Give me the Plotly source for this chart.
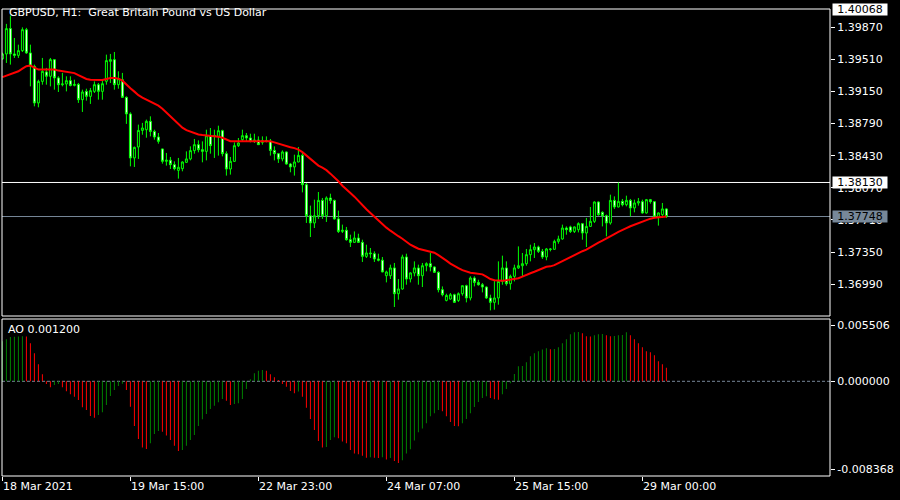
import plotly.graph_objects as go

# ---------------- data ----------------
time_tick_idx = [0, 32, 64, 96, 128, 160]
time_tick_labels = ["18 Mar 2021", "19 Mar 15:00", "22 Mar 23:00", "24 Mar 07:00", "25 Mar 15:00", "29 Mar 00:00"]

price_ticks = [1.39870, 1.39510, 1.39150, 1.38790, 1.38430, 1.38070, 1.37710, 1.37350, 1.36990]

ohlc = [
    (1.39516, 1.39586, 1.39508, 1.39572), (1.39572, 1.39909, 1.39471, 1.39856), (1.39856, 1.40002, 1.39452, 1.39572),
    (1.39572, 1.39751, 1.39527, 1.39556), (1.39556, 1.39676, 1.39527, 1.39609), (1.39609, 1.39870, 1.39594, 1.39844),
    (1.39844, 1.39864, 1.39572, 1.39583), (1.39583, 1.39676, 1.39208, 1.39433), (1.39433, 1.39452, 1.38984, 1.39022),
    (1.39022, 1.39283, 1.38973, 1.39264), (1.39264, 1.39527, 1.39227, 1.39377), (1.39370, 1.39415, 1.39227, 1.39321),
    (1.39321, 1.39527, 1.39208, 1.39508), (1.39508, 1.39510, 1.39171, 1.39303), (1.39303, 1.39321, 1.39145, 1.39227),
    (1.39227, 1.39359, 1.39208, 1.39235), (1.39235, 1.39321, 1.39152, 1.39272), (1.39272, 1.39321, 1.39208, 1.39219),
    (1.39219, 1.39283, 1.39208, 1.39230), (1.39230, 1.39246, 1.39022, 1.39059), (1.39059, 1.39171, 1.38921, 1.39145),
    (1.39152, 1.39182, 1.39048, 1.39096), (1.39096, 1.39190, 1.39011, 1.39160), (1.39152, 1.39264, 1.39134, 1.39227),
    (1.39227, 1.39246, 1.39059, 1.39152), (1.39152, 1.39283, 1.39059, 1.39238), (1.39265, 1.39564, 1.39227, 1.39497),
    (1.39489, 1.39572, 1.39246, 1.39508), (1.39508, 1.39594, 1.39171, 1.39227), (1.39227, 1.39377, 1.39182, 1.39294),
    (1.39283, 1.39359, 1.39078, 1.39085), (1.39085, 1.39096, 1.38787, 1.38899), (1.38899, 1.38917, 1.38311, 1.38405),
    (1.38405, 1.38532, 1.38304, 1.38524), (1.38528, 1.38779, 1.38394, 1.38714), (1.38714, 1.38798, 1.38666, 1.38741),
    (1.38722, 1.38835, 1.38632, 1.38816), (1.38816, 1.38872, 1.38647, 1.38703), (1.38703, 1.38722, 1.38610, 1.38640),
    (1.38640, 1.38685, 1.38565, 1.38591), (1.38506, 1.38509, 1.38341, 1.38367), (1.38367, 1.38461, 1.38319, 1.38380),
    (1.38380, 1.38416, 1.38281, 1.38330), (1.38330, 1.38367, 1.38266, 1.38285), (1.38266, 1.38405, 1.38173, 1.38300),
    (1.38285, 1.38367, 1.38255, 1.38360), (1.38356, 1.38479, 1.38349, 1.38394), (1.38394, 1.38535, 1.38378, 1.38487),
    (1.38487, 1.38618, 1.38453, 1.38554), (1.38554, 1.38602, 1.38468, 1.38498), (1.38498, 1.38591, 1.38356, 1.38479),
    (1.38479, 1.38722, 1.38378, 1.38655), (1.38655, 1.38741, 1.38453, 1.38543), (1.38647, 1.38722, 1.38405, 1.38655),
    (1.38647, 1.38767, 1.38431, 1.38711), (1.38711, 1.38722, 1.38423, 1.38453), (1.38453, 1.38479, 1.38207, 1.38281),
    (1.38281, 1.38416, 1.38218, 1.38367), (1.38367, 1.38580, 1.38360, 1.38543), (1.38543, 1.38629, 1.38528, 1.38573),
    (1.38610, 1.38722, 1.38591, 1.38655), (1.38655, 1.38685, 1.38591, 1.38629), (1.38629, 1.38677, 1.38580, 1.38591),
    (1.38591, 1.38677, 1.38573, 1.38606), (1.38606, 1.38647, 1.38550, 1.38554), (1.38580, 1.38647, 1.38554, 1.38599),
    (1.38599, 1.38647, 1.38580, 1.38591), (1.38591, 1.38618, 1.38431, 1.38490), (1.38490, 1.38535, 1.38378, 1.38453),
    (1.38453, 1.38461, 1.38349, 1.38394), (1.38394, 1.38490, 1.38367, 1.38472), (1.38472, 1.38479, 1.38330, 1.38337),
    (1.38337, 1.38349, 1.38244, 1.38304), (1.38304, 1.38442, 1.38207, 1.38360), (1.38360, 1.38528, 1.38356, 1.38434),
    (1.38434, 1.38468, 1.38019, 1.38105), (1.38105, 1.38124, 1.37676, 1.37757), (1.37757, 1.37870, 1.37518, 1.37676),
    (1.37676, 1.37937, 1.37619, 1.37757), (1.37757, 1.38023, 1.37721, 1.37929), (1.37929, 1.37956, 1.37721, 1.37757),
    (1.37757, 1.37974, 1.37687, 1.37956), (1.37956, 1.38004, 1.37892, 1.37929), (1.37929, 1.37937, 1.37713, 1.37721),
    (1.37721, 1.37814, 1.37563, 1.37581), (1.37581, 1.37657, 1.37563, 1.37594), (1.37594, 1.37631, 1.37477, 1.37488),
    (1.37488, 1.37544, 1.37406, 1.37458), (1.37458, 1.37581, 1.37451, 1.37507), (1.37507, 1.37555, 1.37451, 1.37458),
    (1.37458, 1.37488, 1.37238, 1.37301), (1.37301, 1.37432, 1.37283, 1.37339), (1.37339, 1.37395, 1.37283, 1.37331),
    (1.37331, 1.37357, 1.37238, 1.37272), (1.37272, 1.37331, 1.37245, 1.37258), (1.37258, 1.37294, 1.37122, 1.37126),
    (1.37084, 1.37141, 1.37009, 1.37126), (1.37084, 1.37208, 1.37047, 1.37171), (1.37171, 1.37227, 1.36733, 1.36882),
    (1.36882, 1.37047, 1.36815, 1.36935), (1.36935, 1.37320, 1.36927, 1.37294), (1.37294, 1.37331, 1.36983, 1.37047),
    (1.37047, 1.37122, 1.37009, 1.37115), (1.37115, 1.37245, 1.37077, 1.37171), (1.37171, 1.37208, 1.36983, 1.37084),
    (1.37084, 1.37227, 1.36957, 1.37196), (1.37196, 1.37234, 1.37133, 1.37219), (1.37219, 1.37339, 1.37133, 1.37182),
    (1.37182, 1.37189, 1.37115, 1.37122), (1.37122, 1.37133, 1.36897, 1.36927), (1.36927, 1.36964, 1.36852, 1.36871),
    (1.36807, 1.36882, 1.36796, 1.36863), (1.36822, 1.36890, 1.36815, 1.36871), (1.36871, 1.36882, 1.36778, 1.36785),
    (1.36807, 1.36897, 1.36790, 1.36882), (1.36882, 1.36972, 1.36860, 1.36972), (1.36972, 1.36983, 1.36785, 1.36834),
    (1.36834, 1.37077, 1.36807, 1.37058), (1.37058, 1.37077, 1.36964, 1.37009), (1.37009, 1.37039, 1.36972, 1.36983),
    (1.36983, 1.37002, 1.36897, 1.36957), (1.36957, 1.36964, 1.36823, 1.36834), (1.36834, 1.36871, 1.36695, 1.36785),
    (1.36785, 1.37039, 1.36703, 1.36834), (1.36834, 1.37245, 1.36759, 1.37020), (1.37020, 1.37309, 1.36983, 1.37171),
    (1.37171, 1.37245, 1.36972, 1.36994), (1.36994, 1.37096, 1.36927, 1.37077), (1.37077, 1.37208, 1.37020, 1.37171),
    (1.37171, 1.37413, 1.37160, 1.37196), (1.37196, 1.37339, 1.37077, 1.37219), (1.37219, 1.37384, 1.37196, 1.37320),
    (1.37320, 1.37432, 1.37245, 1.37376), (1.37376, 1.37451, 1.37283, 1.37406), (1.37406, 1.37421, 1.37339, 1.37357),
    (1.37357, 1.37384, 1.37272, 1.37294), (1.37294, 1.37395, 1.37257, 1.37384), (1.37384, 1.37395, 1.37357, 1.37380),
    (1.37380, 1.37488, 1.37376, 1.37469), (1.37469, 1.37533, 1.37443, 1.37496), (1.37496, 1.37657, 1.37488, 1.37619),
    (1.37619, 1.37637, 1.37544, 1.37600), (1.37631, 1.37645, 1.37563, 1.37581), (1.37581, 1.37637, 1.37563, 1.37631),
    (1.37600, 1.37683, 1.37570, 1.37668), (1.37668, 1.37676, 1.37488, 1.37563), (1.37563, 1.37732, 1.37406, 1.37637),
    (1.37637, 1.37855, 1.37631, 1.37694), (1.37694, 1.37918, 1.37676, 1.37911), (1.37911, 1.37918, 1.37757, 1.37769),
    (1.37795, 1.37806, 1.37637, 1.37757), (1.37757, 1.37769, 1.37525, 1.37676), (1.37676, 1.37993, 1.37657, 1.37929),
    (1.37929, 1.37974, 1.37833, 1.37855), (1.37855, 1.38130, 1.37850, 1.37918), (1.37918, 1.37945, 1.37862, 1.37881),
    (1.37881, 1.37982, 1.37862, 1.37929), (1.37929, 1.37945, 1.37750, 1.37844), (1.37844, 1.37937, 1.37795, 1.37900),
    (1.37900, 1.37956, 1.37870, 1.37915), (1.37915, 1.37937, 1.37780, 1.37788), (1.37788, 1.37945, 1.37780, 1.37937),
    (1.37937, 1.37945, 1.37892, 1.37915), (1.37915, 1.37918, 1.37732, 1.37743), (1.37743, 1.37795, 1.37646, 1.37788),
    (1.37769, 1.37900, 1.37732, 1.37833), (1.37833, 1.37840, 1.37732, 1.37748),
]
opens = [c[0] for c in ohlc]
highs = [c[1] for c in ohlc]
lows = [c[2] for c in ohlc]
closes = [c[3] for c in ohlc]

ma = [
    1.39312, 1.39329, 1.39351, 1.39362, 1.39377, 1.39407, 1.39435, 1.39441, 1.39418, 1.39396,
    1.39396, 1.39396, 1.39396, 1.39396, 1.39385, 1.39379, 1.39370, 1.39366, 1.39357, 1.39334,
    1.39312, 1.39291, 1.39283, 1.39280, 1.39280, 1.39280, 1.39291, 1.39303, 1.39303, 1.39295,
    1.39272, 1.39227, 1.39188, 1.39149, 1.39109, 1.39081, 1.39059, 1.39040, 1.39020, 1.38992,
    1.38958, 1.38913, 1.38868, 1.38829, 1.38784, 1.38745, 1.38717, 1.38700, 1.38683, 1.38669,
    1.38663, 1.38658, 1.38655, 1.38652, 1.38644, 1.38632, 1.38610, 1.38593, 1.38591, 1.38591,
    1.38591, 1.38591, 1.38593, 1.38596, 1.38599, 1.38599, 1.38599, 1.38591, 1.38580, 1.38565,
    1.38548, 1.38537, 1.38526, 1.38515, 1.38498, 1.38470, 1.38431, 1.38386, 1.38347, 1.38319,
    1.38296, 1.38268, 1.38229, 1.38189, 1.38144, 1.38094, 1.38049, 1.38012, 1.37971, 1.37920,
    1.37875, 1.37830, 1.37788, 1.37746, 1.37696, 1.37657, 1.37623, 1.37589, 1.37555, 1.37527,
    1.37499, 1.37460, 1.37432, 1.37409, 1.37387, 1.37376, 1.37365, 1.37357, 1.37342, 1.37314,
    1.37286, 1.37253, 1.37219, 1.37191, 1.37169, 1.37146, 1.37129, 1.37118, 1.37112, 1.37107,
    1.37099, 1.37073, 1.37047, 1.37034, 1.37028, 1.37028, 1.37034, 1.37039, 1.37047, 1.37056,
    1.37073, 1.37096, 1.37112, 1.37129, 1.37148, 1.37169, 1.37185, 1.37189, 1.37202, 1.37225,
    1.37247, 1.37275, 1.37297, 1.37320, 1.37342, 1.37359, 1.37376, 1.37404, 1.37426, 1.37454,
    1.37477, 1.37499, 1.37527, 1.37550, 1.37575, 1.37600, 1.37617, 1.37639, 1.37657, 1.37673,
    1.37690, 1.37707, 1.37724, 1.37735, 1.37741, 1.37746, 1.37749,
]

ao = [
    0.00355, 0.00371, 0.00392, 0.00394, 0.00396, 0.00398, 0.00396, 0.00336, 0.00248, 0.00150,
    0.00062, -0.00024, -0.00053, -0.00032, -0.00024, -0.00053, -0.00088, -0.00115, -0.00136, -0.00165,
    -0.00230, -0.00253, -0.00306, -0.00321, -0.00298, -0.00274, -0.00209, -0.00130, -0.00077, -0.00041,
    -0.00021, -0.00077, -0.00224, -0.00395, -0.00510, -0.00584, -0.00598, -0.00548, -0.00466, -0.00439,
    -0.00445, -0.00480, -0.00519, -0.00569, -0.00616, -0.00607, -0.00569, -0.00519, -0.00474, -0.00395,
    -0.00336, -0.00289, -0.00245, -0.00215, -0.00186, -0.00156, -0.00171, -0.00209, -0.00200, -0.00195,
    -0.00156, -0.00068, 0.00018, 0.00071, 0.00094, 0.00100, 0.00094, 0.00062, 0.00035, 0.00012,
    -0.00024, -0.00047, -0.00085, -0.00106, -0.00091, -0.00136, -0.00233, -0.00333, -0.00430, -0.00528,
    -0.00586, -0.00581, -0.00519, -0.00495, -0.00504, -0.00533, -0.00548, -0.00607, -0.00637, -0.00645,
    -0.00657, -0.00675, -0.00672, -0.00675, -0.00678, -0.00672, -0.00690, -0.00678, -0.00704, -0.00722,
    -0.00698, -0.00637, -0.00601, -0.00522, -0.00451, -0.00416, -0.00371, -0.00309, -0.00283, -0.00253,
    -0.00265, -0.00309, -0.00360, -0.00395, -0.00398, -0.00371, -0.00333, -0.00283, -0.00227, -0.00183,
    -0.00147, -0.00133, -0.00147, -0.00159, -0.00162, -0.00115, -0.00068, -0.00018, 0.00065, 0.00133,
    0.00136, 0.00168, 0.00221, 0.00248, 0.00265, 0.00280, 0.00292, 0.00283, 0.00286, 0.00301,
    0.00336, 0.00371, 0.00416, 0.00433, 0.00436, 0.00424, 0.00398, 0.00395, 0.00407, 0.00416,
    0.00418, 0.00407, 0.00398, 0.00401, 0.00407, 0.00410, 0.00433, 0.00407, 0.00371, 0.00336,
    0.00301, 0.00265, 0.00256, 0.00230, 0.00177, 0.00150, 0.00120,
]

ao_max = 0.005506
ao_min = -0.008368
ao_label = "AO 0.001200"
title_text = "GBPUSD, H1:\u00a0\u00a0Great Britain Pound vs US Dollar"
hline_high = 1.38130
hline_top = 1.40068
bid = 1.37748

# ---------------- figure ----------------
idx = list(range(len(ohlc)))
FONT = "DejaVu Sans"
W, H = 900, 500
ML, MR, MT, MB = 2, 70, 9, 24
plot_h = H - MT - MB
main_dom = [(H - MB - 316) / plot_h, 1.0]
ao_dom = [0.0, (H - MB - 319) / plot_h]

ao_colors = ["#008000"]
for i in range(1, len(ao)):
    ao_colors.append("#008000" if ao[i] >= ao[i - 1] else "#FF0000")

fig = go.Figure()
fig.add_trace(go.Candlestick(
    x=idx, open=opens, high=highs, low=lows, close=closes,
    increasing=dict(line=dict(color="#00FF00", width=1), fillcolor="#000000"),
    decreasing=dict(line=dict(color="#00FF00", width=1), fillcolor="#FFFFFF"),
    whiskerwidth=0, xaxis="x", yaxis="y", hoverinfo="skip",
))
fig.add_trace(go.Scatter(
    x=idx, y=ma, mode="lines", line=dict(color="#FF0000", width=2),
    xaxis="x", yaxis="y", hoverinfo="skip",
))
fig.add_trace(go.Bar(
    x=idx, y=ao, width=0.25, marker=dict(color=ao_colors, line=dict(width=0)),
    xaxis="x", yaxis="y2", hoverinfo="skip",
))

ao_px = (ao_max - ao_min) / (H - MB - 319)
ao_tickvals = [ao_max - 6.5 * ao_px, 0.0, ao_min + 6.5 * ao_px]
ao_ticktext = [f"{ao_max:.6f}", f"{0:.6f}", f"{ao_min:.6f}"]

fig.update_layout(
    width=W, height=H, margin=dict(l=ML, r=MR, t=MT, b=MB),
    paper_bgcolor="#000000", plot_bgcolor="#000000",
    showlegend=False, hovermode=False,
    font=dict(family=FONT, size=11, color="#FFFFFF"),
    xaxis=dict(
        domain=[0, 1], range=[-0.1, 206.9], anchor="y2",
        rangeslider=dict(visible=False),
        showgrid=False, zeroline=False, showline=False,
        tickmode="array", tickvals=time_tick_idx, ticktext=time_tick_labels,
        ticks="outside", ticklen=4, tickcolor="#FFFFFF", tickwidth=1,
        ticklabelposition="outside right",
        tickfont=dict(family=FONT, size=11, color="#FFFFFF"),
    ),
    yaxis=dict(
        domain=main_dom, range=[1.36632, 1.40076], side="right", anchor="x",
        showgrid=False, zeroline=False, showline=False,
        tickmode="array", tickvals=price_ticks, ticktext=[f"{v:.5f}" for v in price_ticks],
        ticks="outside", ticklen=4, tickcolor="#FFFFFF", tickwidth=1,
        tickfont=dict(family=FONT, size=11, color="#FFFFFF"),
    ),
    yaxis2=dict(
        domain=ao_dom, range=[ao_min, ao_max], side="right", anchor="x",
        showgrid=False, zeroline=False, showline=False,
        tickmode="array", tickvals=ao_tickvals, ticktext=ao_ticktext,
        ticks="outside", ticklen=4, tickcolor="#FFFFFF", tickwidth=1,
        tickfont=dict(family=FONT, size=11, color="#FFFFFF"),
    ),
)

shapes = [
    dict(type="line", xref="paper", x0=0, x1=1, yref="y", y0=hline_high, y1=hline_high,
         line=dict(color="#FFFFFF", width=1), layer="below"),
    dict(type="line", xref="paper", x0=0, x1=1, yref="y", y0=bid, y1=bid,
         line=dict(color="#778899", width=1), layer="below"),
    dict(type="line", xref="paper", x0=0, x1=1, yref="y2", y0=0, y1=0,
         line=dict(color="#778899", width=1, dash="3px,2px"), layer="below"),
    dict(type="rect", xref="paper", x0=0, x1=1, yref="paper", y0=main_dom[0], y1=main_dom[1],
         line=dict(color="#FFFFFF", width=1), fillcolor="rgba(0,0,0,0)", layer="above"),
    dict(type="rect", xref="paper", x0=0, x1=1, yref="paper", y0=ao_dom[0], y1=ao_dom[1],
         line=dict(color="#FFFFFF", width=1), fillcolor="rgba(0,0,0,0)", layer="above"),
]
fig.update_layout(shapes=shapes)

def price_box(y, text, bg, fg):
    return dict(x=1, xref="paper", xanchor="left", xshift=2, y=y, yref="y", yanchor="middle",
                text=text, showarrow=False, bgcolor=bg, borderpad=0, width=54, height=11,
                align="center", font=dict(family=FONT, size=11, color=fg))

annotations = [
    dict(x=(7 - ML) / (W - ML - MR), xref="paper", xanchor="left", y=(H - MB - 12) / plot_h, yref="paper",
         yanchor="middle", text=title_text, showarrow=False,
         font=dict(family=FONT, size=11, color="#FFFFFF")),
    dict(x=(6 - ML) / (W - ML - MR), xref="paper", xanchor="left", y=(H - MB - 329) / plot_h, yref="paper",
         yanchor="middle", text=ao_label, showarrow=False,
         font=dict(family=FONT, size=11, color="#FFFFFF")),
    price_box(hline_top, f"{hline_top:.5f}", "#FFFFFF", "#000000"),
    price_box(hline_high, f"{hline_high:.5f}", "#FFFFFF", "#000000"),
    price_box(bid, f"{bid:.5f}", "#778899", "#000000"),
]
fig.update_layout(annotations=annotations)

fig.write_html(
    "out.html",
    config={"displayModeBar": False, "staticPlot": True},
    post_script="document.body.style.margin='0px';document.body.style.overflow='hidden';",
)
